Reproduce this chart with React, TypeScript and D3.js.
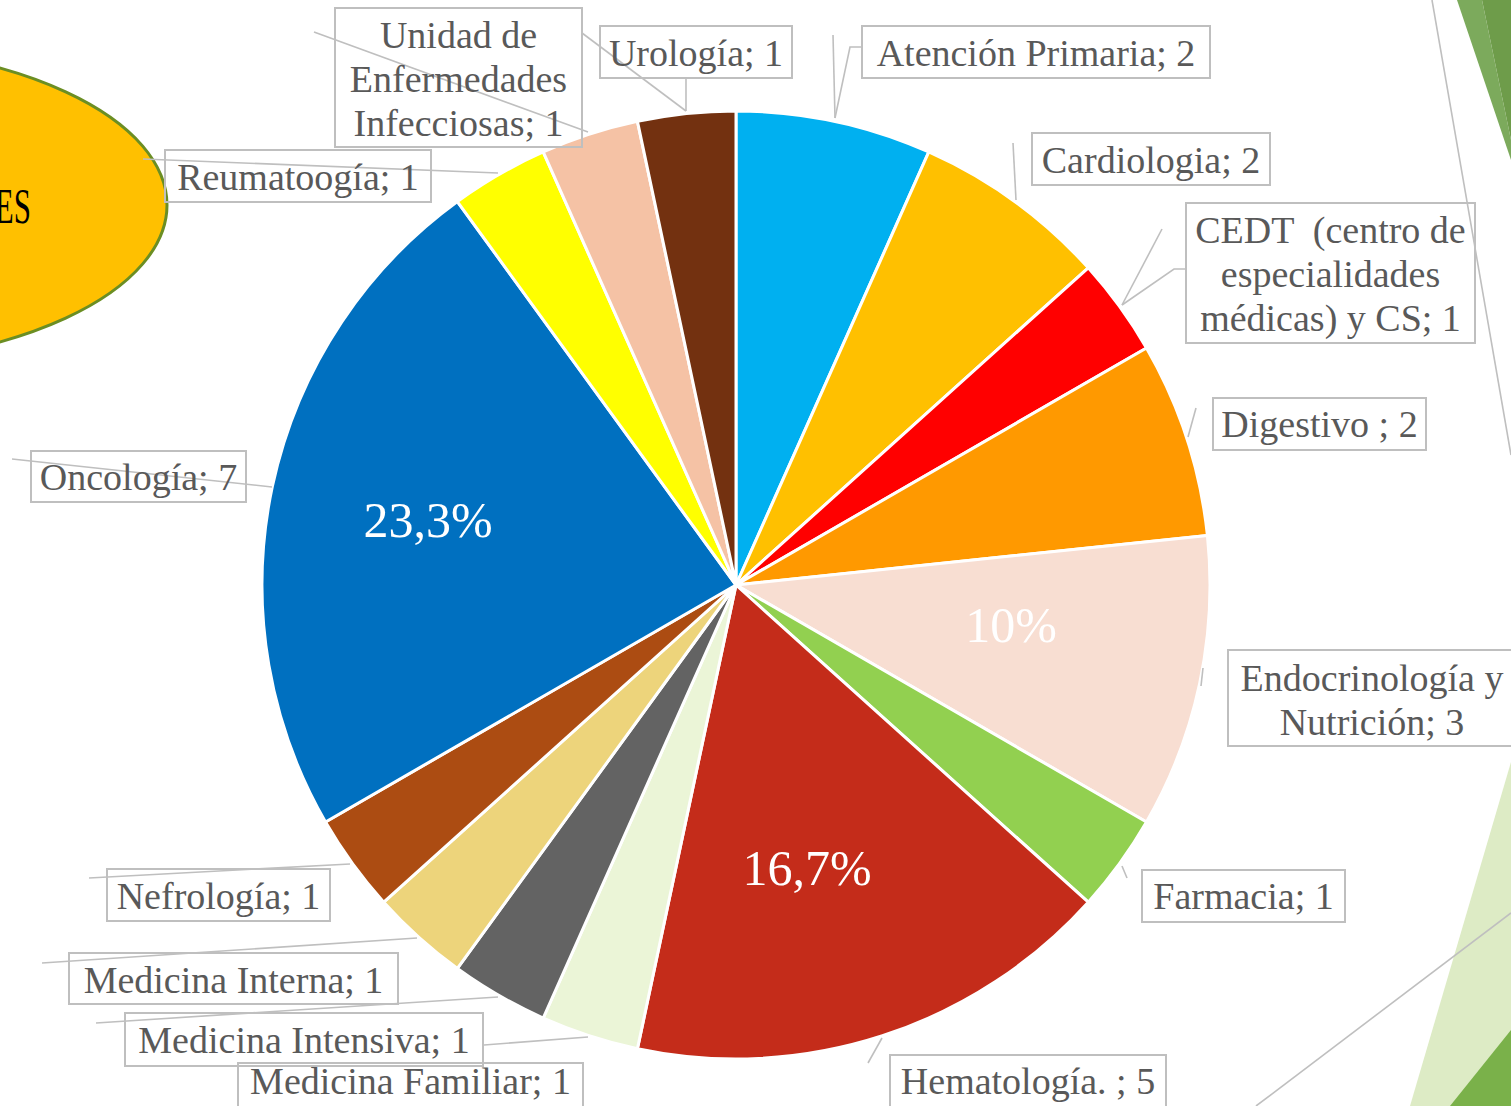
import React from "react";
import * as d3 from "d3";

// ---- data ----
const categories = [
  "Atención Primaria",
  "Cardiologia",
  "CEDT  (centro de especialidades médicas) y CS",
  "Digestivo ",
  "Endocrinología y Nutrición",
  "Farmacia",
  "Hematología. ",
  "Medicina Familiar",
  "Medicina Intensiva",
  "Medicina Interna",
  "Nefrología",
  "Oncología",
  "Reumatoogía",
  "Unidad de Enfermedades Infecciosas",
  "Urología",
];
const values = [2, 2, 1, 2, 3, 1, 5, 1, 1, 1, 1, 7, 1, 1, 1];
const sliceColors = [
  "#00B0F0", "#FFC000", "#FF0000", "#FF9900", "#F8DED2", "#92D050", "#C42C1A",
  "#EBF5D7", "#636363", "#EDD47B", "#AC4C12", "#0070C0", "#FFFF00", "#F5C2A5", "#733110",
];
const percentShown = ["Oncología", "Hematología. ", "Endocrinología y Nutrición"];

// ---- layout (manually placed labels, as in the original) ----
const W = 1511, H = 1106;
const CX = 736, CY = 585, R = 474;

type Box = { x1: number; y1: number; x2: number; y2: number; base: number; breaks: number[] };
const labelBoxes: Box[] = [
  { x1: 862, y1: 26, x2: 1210, y2: 78, base: 66, breaks: [] },
  { x1: 1032, y1: 133, x2: 1270, y2: 185, base: 173, breaks: [] },
  { x1: 1186, y1: 203, x2: 1475, y2: 343, base: 243, breaks: [3, 4] },
  { x1: 1213, y1: 398, x2: 1426, y2: 450, base: 437, breaks: [] },
  { x1: 1228, y1: 650, x2: 1516, y2: 746, base: 691, breaks: [1] },
  { x1: 1142, y1: 870, x2: 1345, y2: 922, base: 909, breaks: [] },
  { x1: 890, y1: 1055, x2: 1166, y2: 1112, base: 1094, breaks: [] },
  { x1: 238, y1: 1063, x2: 583, y2: 1112, base: 1094, breaks: [] },
  { x1: 125, y1: 1013, x2: 483, y2: 1066, base: 1053, breaks: [] },
  { x1: 69, y1: 953, x2: 398, y2: 1004, base: 993, breaks: [] },
  { x1: 107, y1: 869, x2: 330, y2: 921, base: 909, breaks: [] },
  { x1: 31, y1: 451, x2: 246, y2: 502, base: 490, breaks: [] },
  { x1: 165, y1: 150, x2: 431, y2: 202, base: 190, breaks: [] },
  { x1: 335, y1: 8, x2: 582, y2: 147, base: 48, breaks: [1, 2] },
  { x1: 600, y1: 26, x2: 792, y2: 78, base: 66, breaks: [] },
];
const LINE_H = 44;

const leaderLines: [number, number][][] = [
  [[833, 35], [835, 118]],
  [[835, 118], [850, 47], [862, 47]],
  [[1013, 143], [1016, 200]],
  [[1162, 229], [1122, 305]],
  [[1122, 305], [1174, 269], [1186, 269]],
  [[1196, 408], [1188, 437]],
  [[1203, 668], [1201, 686]],
  [[1122, 866], [1127, 878]],
  [[868, 1063], [882, 1038]],
  [[484, 1045], [588, 1037]],
  [[96, 1023], [498, 997]],
  [[42, 963], [417, 938]],
  [[89, 878], [350, 864]],
  [[12, 459], [272, 487]],
  [[143, 159], [498, 173]],
  [[314, 32], [588, 132]],
  [[582, 33], [686, 111]],
  [[686, 78], [686, 111]],
  [[1432, 0], [1511, 455]],
  [[1256, 1106], [1511, 913]],
];

const pctPos: { x: number; y: number }[] = [
  { x: 428, y: 537 },
  { x: 807, y: 885 },
  { x: 1011, y: 642 },
];

function fmtPct(v: number) {
  let s = v.toFixed(1);
  if (s.endsWith(".0")) s = s.slice(0, -2);
  return s.replace(".", ",") + "%";
}

function splitLines(text: string, breaks: number[]) {
  const words = text.split(" ");
  const lines: string[] = [];
  let start = 0;
  for (const b of breaks) {
    lines.push(words.slice(start, b + 1).join(" "));
    start = b + 1;
  }
  lines.push(words.slice(start).join(" "));
  return lines;
}

export default function App() {
  const total = d3.sum(values);
  const pie = d3
    .pie<number>()
    .sort(null)
    .value((d) => d)
    .startAngle(0)
    .endAngle(2 * Math.PI);
  const arcs = pie(values);
  const arc = d3.arc<d3.PieArcDatum<number>>().innerRadius(0).outerRadius(R);
  const line = d3.line();
  const font = "'Liberation Serif', 'DejaVu Serif', serif";

  return (
    <div style={{ position: "absolute", left: 0, top: 0, width: W, height: H, overflow: "hidden" }}>
      <svg width={W} height={H} viewBox={`0 0 ${W} ${H}`} style={{ display: "block", background: "#fff" }}>
        {/* background decorations */}
        <ellipse cx={-179} cy={205} rx={346} ry={160} fill="#FFC000" stroke="#6B8E23" strokeWidth={3} />
        <text transform="translate(31,223) scale(0.62,1)" textAnchor="end" fontFamily={font} fontSize={50} fill="#000">ES</text>
        <polygon points="1457,0 1482,0 1511,140 1511,160" fill="#7CAA5C" />
        <polygon points="1482,0 1511,0 1511,140" fill="#6E9C4A" />
        <polygon points="1410,1106 1511,762 1511,1106" fill="#DDEBC5" />
        <polygon points="1450,1106 1511,1030 1511,1106" fill="#7AB14A" />

        {/* pie */}
        <g transform={`translate(${CX},${CY})`}>
          {arcs.map((a, i) => (
            <path key={i} d={arc(a) || ""} fill={sliceColors[i]} stroke="#fff" strokeWidth={3} strokeLinejoin="round" />
          ))}
        </g>

        {/* leader lines */}
        {leaderLines.map((pts, i) => (
          <path key={i} d={line(pts) || ""} fill="none" stroke="#BFBFBF" strokeWidth={1.6} />
        ))}

        {/* percentage labels */}
        {percentShown.map((name, k) => {
          const i = categories.indexOf(name);
          return (
            <text key={name} x={pctPos[k].x} y={pctPos[k].y} textAnchor="middle" fontFamily={font} fontSize={50} fill="#fff">
              {fmtPct((values[i] / total) * 100)}
            </text>
          );
        })}

        {/* category labels */}
        {categories.map((c, i) => {
          const b = labelBoxes[i];
          const lines = splitLines(`${c}; ${values[i]}`, b.breaks);
          const cx = (b.x1 + Math.min(b.x2, W + 5)) / 2;
          return (
            <g key={c}>
              <rect x={b.x1} y={b.y1} width={b.x2 - b.x1} height={b.y2 - b.y1} fill="none" stroke="#BFBFBF" strokeWidth={2} />
              {lines.map((l, j) => (
                <text key={j} x={cx} y={b.base + j * LINE_H} textAnchor="middle" fontFamily={font} fontSize={38} fill="#595959" style={{ whiteSpace: "pre" }}>
                  {l}
                </text>
              ))}
            </g>
          );
        })}
      </svg>
    </div>
  );
}
